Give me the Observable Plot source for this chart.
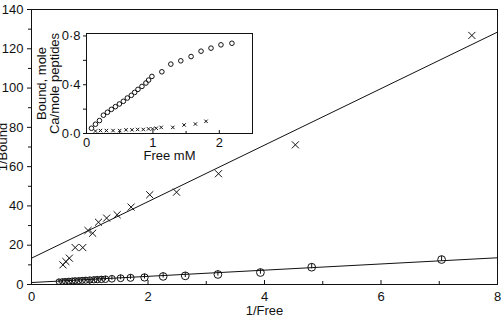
<!DOCTYPE html>
<html><head><meta charset="utf-8">
<script src="https://cdn.jsdelivr.net/npm/d3@7"></script>
<script src="https://cdn.jsdelivr.net/npm/@observablehq/plot@0.6"></script>
<style>
body{margin:0;background:#fff;}
#wrap{position:relative;width:503px;height:315px;overflow:hidden;background:#fff;}
#wrap svg{position:absolute;left:0;top:0;}
</style></head><body><div id="wrap"></div>
<script>
// ---- main chart (double reciprocal) ----
const crossX = [0.54,0.59,0.65,0.75,0.88,0.97,1.05,1.15,1.29,1.47,1.71,2.03,2.49,3.21,4.53,7.56];
const crossY = [10.0,11.7,13.4,18.8,18.8,27.5,26.1,31.7,33.8,35.5,39.4,45.7,47.0,56.4,71.1,126.8];
const circX = [7.04,4.81,3.93,3.20,2.64,2.26,1.94,1.70,1.53,1.38,1.27,1.20,1.13,1.07,1.00,0.93,0.87,0.81,0.75,0.70,0.64,0.58,0.53,0.47];
const circY = [12.7,8.8,6.1,5.1,4.4,4.1,3.6,3.4,3.2,2.9,2.7,2.6,2.5,2.4,2.3,2.2,2.1,2.0,1.95,1.85,1.75,1.65,1.55,1.45];
const crossFitX = [0,8], crossFitY = [13.4,128.5];
const circFitX = [0,8], circFitY = [1.0,13.6];
const mainYTicks = [0,20,40,60,80,100,120,140];
const mainYMinor = [10,30,50,70,90,110,130];
const mainXTicks = [0,2,4,6,8];
const mainXMinor = [1,3,5,7];
const mainXLabel = "1/Free", mainYLabel = "1/Bound";

// ---- inset (binding curve) ----
const inCircX = [0.075,0.135,0.195,0.255,0.315,0.375,0.435,0.495,0.555,0.615,0.675,0.725,0.775,0.835,0.895,0.935,0.985,1.135,1.27,1.42,1.575,1.725,1.875,2.025,2.19];
const inCircY = [0.043,0.076,0.106,0.150,0.174,0.198,0.220,0.242,0.264,0.291,0.313,0.337,0.362,0.386,0.414,0.438,0.468,0.506,0.569,0.596,0.631,0.675,0.700,0.727,0.740];
const inCrossX = [0.135,0.21,0.30,0.40,0.50,0.595,0.685,0.77,0.855,0.935,0.995,1.05,1.125,1.30,1.47,1.64,1.80];
const inCrossY = [0.020,0.024,0.024,0.024,0.024,0.030,0.030,0.033,0.033,0.038,0.038,0.043,0.050,0.050,0.070,0.078,0.100];
const inYTicks = [0,0.4,0.8];
const inYMinor = [0.2,0.6];
const inXTicks = [0,1,2];
const inXMinor = [0.5,1.5];
const inXLabel = "Free mM";
const inYLabel = "Bound, mole\nCa/mole peptides";

const ink = "#111";
const zip = (xs, ys) => xs.map((x, i) => ({x, y: ys[i]}));
const circleTick = {
  draw(ctx, size) {
    const r = Math.sqrt(size / Math.PI);
    ctx.moveTo(r, 0);
    ctx.arc(0, 0, r, 0, 2 * Math.PI);
    ctx.moveTo(0, -r);
    ctx.lineTo(0, r * 0.3);
  }
};
const style = {fontFamily: "'Liberation Sans', Arial, sans-serif", fontSize: "13px", color: ink, background: "transparent"};
const dotFmt = d => d.toFixed(1).replace(".", "\u00b7");

const main = Plot.plot({
  width: 503, height: 315,
  marginLeft: 31, marginRight: 6, marginTop: 9, marginBottom: 31,
  x: {domain: [0, 8]}, y: {domain: [0, 140]},
  style,
  marks: [
    Plot.frame({stroke: ink}),
    Plot.axisY(mainYTicks, {tickSize: 4, tickPadding: 4, label: null}),
    Plot.axisY(mainYMinor, {tickSize: 3, tickFormat: () => "", label: null}),
    Plot.axisX(mainXTicks, {tickSize: -4, tickPadding: 11, label: null}),
    Plot.axisX(mainXMinor, {tickSize: -3, tickFormat: () => "", label: null}),
    Plot.line(zip(crossFitX, crossFitY), {x: "x", y: "y", stroke: ink, strokeWidth: 1}),
    Plot.line(zip(circFitX, circFitY), {x: "x", y: "y", stroke: ink, strokeWidth: 1}),
    Plot.dot(zip(crossX, crossY), {x: "x", y: "y", symbol: "times", r: 3.3, stroke: ink, strokeWidth: 1}),
    Plot.dot(zip(circX, circY), {x: "x", y: "y", symbol: circleTick, r: d => Math.min(4.6, 1.8 + 1.2 * d.x), stroke: ink, fill: "none", strokeWidth: 1}),
    Plot.text([mainYLabel], {frameAnchor: "left", textAnchor: "middle", rotate: -90, dx: -29, fill: ink}),
    Plot.text([mainXLabel], {frameAnchor: "bottom", textAnchor: "middle", dy: 30, fill: ink})
  ]
});

const inset = Plot.plot({
  width: 260, height: 170,
  marginLeft: 86, marginRight: 8, marginTop: 33, marginBottom: 37,
  x: {domain: [0, 2.5]}, y: {domain: [0, 0.82]},
  style,
  marks: [
    Plot.frame({fill: "white", stroke: ink}),
    Plot.axisY(inYTicks, {tickSize: 3, tickPadding: 3, tickFormat: dotFmt, label: null}),
    Plot.axisY(inYMinor, {tickSize: 3, tickFormat: () => "", label: null}),
    Plot.axisX(inXTicks, {tickSize: -3, tickPadding: 7, label: null}),
    Plot.axisX(inXMinor, {tickSize: -2, tickFormat: () => "", label: null}),
    Plot.dot(zip(inCircX, inCircY), {x: "x", y: "y", r: 2.3, stroke: ink, fill: "none", strokeWidth: 1}),
    Plot.dot(zip(inCrossX, inCrossY), {x: "x", y: "y", symbol: "times", r: 1.7, stroke: ink, strokeWidth: 1}),
    Plot.text([inYLabel], {frameAnchor: "left", textAnchor: "middle", rotate: -90, dx: -38, lineHeight: 0.95, fill: ink}),
    Plot.text([inXLabel], {frameAnchor: "bottom", textAnchor: "middle", dy: 26, fill: ink})
  ]
});

const wrap = document.getElementById("wrap");
wrap.appendChild(main);
wrap.appendChild(inset);
</script></body></html>
